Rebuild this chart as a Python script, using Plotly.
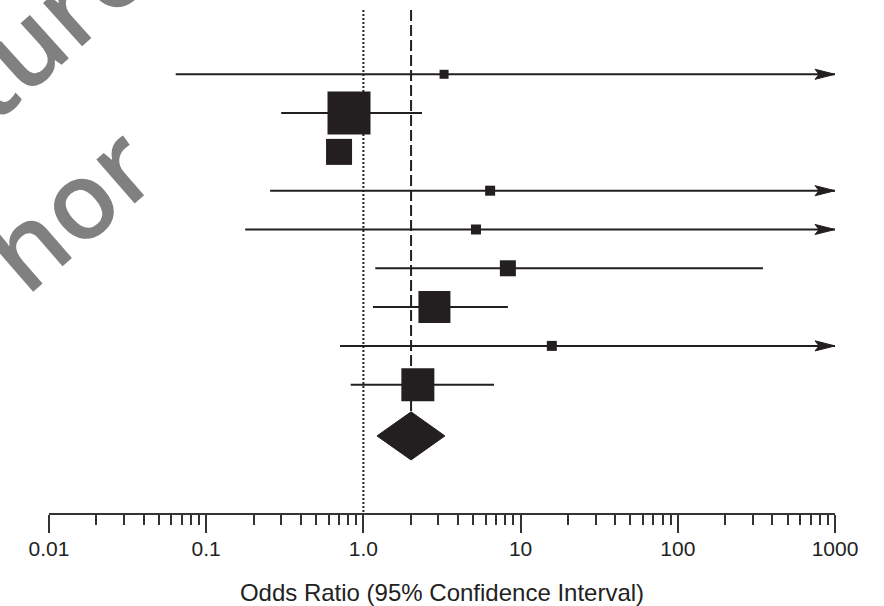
import numpy as np
import plotly.graph_objects as go

# ---- data ----
rows = [1, 2, 3, 4, 5, 6, 7, 8, 9]
odds_ratio = [3.26, 0.81, 0.70, 6.4, 5.2, 8.3, 2.83, 15.8, 2.22]
ci_low = [0.064, 0.30, 0.62, 0.255, 0.177, 1.19, 1.15, 0.71, 0.83]
ci_high = [np.inf, 2.36, 0.79, np.inf, np.inf, 348, 8.3, np.inf, 6.78]
weight_px = [9, 43, 26, 10, 10, 16, 32, 10, 33]

summary_row = 10.32
summary_or = 2.01
summary_low = 1.22
summary_high = 3.30

null_value = 1.0
tick_vals = [0.01, 0.1, 1, 10, 100, 1000]
tick_text = ["0.01", "0.1", "1.0", "10", "100", "1000"]
minor_vals = [m * 10.0 ** e for e in range(-2, 3) for m in range(2, 10)]
x_title = "Odds Ratio (95% Confidence Interval)"

INK = "#231f20"
XMIN_LOG, XMAX_LOG = -2, 3
YTOP, YBOT = -0.657, 12.307
DIAMOND_HALF = 0.62
ARROW_LEN_DEC = 0.127
ARROW_HALF = 0.13

fig = go.Figure()

# confidence interval lines
xmax = 10 ** XMAX_LOG
for r, lo, hi in zip(rows, ci_low, ci_high):
    hi_c = min(hi, xmax)
    fig.add_trace(go.Scatter(x=[lo, hi_c], y=[r, r], mode="lines",
                             line=dict(color=INK, width=2),
                             hoverinfo="skip", showlegend=False, cliponaxis=False))
    if hi > xmax:
        back = xmax / 10 ** ARROW_LEN_DEC
        notch = xmax / 10 ** (ARROW_LEN_DEC * 0.8)
        fig.add_trace(go.Scatter(
            x=[xmax, back, notch, back, xmax],
            y=[r, r - ARROW_HALF, r, r + ARROW_HALF, r],
            mode="lines", fill="toself", fillcolor=INK,
            line=dict(color=INK, width=1),
            hoverinfo="skip", showlegend=False, cliponaxis=False))

# reference lines
fig.add_trace(go.Scatter(x=[null_value, null_value], y=[YTOP, YBOT], mode="lines",
                         line=dict(color=INK, width=2, dash="2px,2px"),
                         hoverinfo="skip", showlegend=False))
fig.add_trace(go.Scatter(x=[summary_or, summary_or], y=[YTOP, summary_row - DIAMOND_HALF],
                         mode="lines",
                         line=dict(color=INK, width=2, dash="11px,4px"),
                         hoverinfo="skip", showlegend=False))

# study squares
fig.add_trace(go.Scatter(x=odds_ratio, y=rows, mode="markers",
                         marker=dict(symbol="square", size=weight_px, color=INK,
                                     opacity=1, line=dict(width=0)),
                         showlegend=False))

# summary diamond
fig.add_trace(go.Scatter(
    x=[summary_low, summary_or, summary_high, summary_or, summary_low],
    y=[summary_row, summary_row - DIAMOND_HALF, summary_row, summary_row + DIAMOND_HALF, summary_row],
    mode="lines", fill="toself", fillcolor=INK, line=dict(color=INK, width=1),
    hoverinfo="skip", showlegend=False))

fig.update_xaxes(type="log", range=[XMIN_LOG, XMAX_LOG], automargin=False,
                 tickmode="array", tickvals=tick_vals, ticktext=tick_text,
                 ticks="outside", ticklen=18, tickwidth=2, tickcolor="#333",
                 showline=True, linecolor="#333", linewidth=2,
                 showgrid=False, zeroline=False, ticklabelstandoff=-2,
                 minor=dict(tickmode="array", tickvals=minor_vals, ticks="outside",
                            ticklen=10, tickwidth=2, tickcolor="#333", showgrid=False),
                 tickfont=dict(family="Liberation Sans, Arial", size=21, color="#222"),
                 title=dict(text=x_title, standoff=25,
                            font=dict(family="Liberation Sans, Arial", size=24, color="#222")))
fig.update_yaxes(range=[YBOT, YTOP], visible=False, showgrid=False, zeroline=False,
                 automargin=False)

# watermark
wm_font = dict(family="Open Sans", size=108, color="#808080", weight=600)
fig.add_annotation(text="ture", xref="paper", yref="paper", x=-0.003, y=0.975,
                   xanchor="center", yanchor="middle", showarrow=False,
                   textangle=-42, font=wm_font)
fig.add_annotation(text="hor", xref="paper", yref="paper", x=0.024, y=0.609,
                   xanchor="center", yanchor="middle", showarrow=False,
                   textangle=-41, font=wm_font)

fig.update_layout(width=884, height=606, margin=dict(l=49, r=49, t=10, b=93),
                  plot_bgcolor="white", paper_bgcolor="white")

fig.write_html("out.html", config={"displayModeBar": False},
               post_script="document.body.style.margin='0';")
